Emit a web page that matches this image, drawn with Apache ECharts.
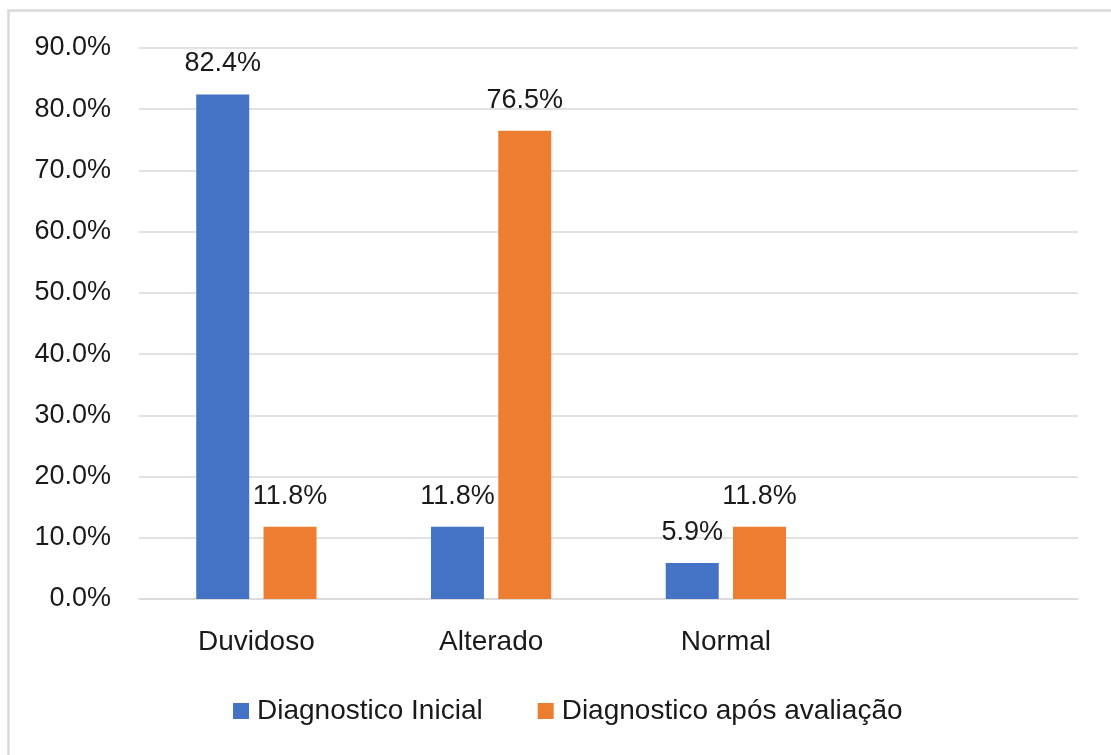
<!DOCTYPE html>
<html>
<head>
<meta charset="utf-8">
<script src="https://cdn.jsdelivr.net/npm/echarts@6/dist/echarts.min.js"></script>
<style>
  html, body { margin: 0; padding: 0; background: #fff; }
  #chart { width: 1111px; height: 755px; }
</style>
</head>
<body>
<div id="chart"></div>
<script>
// Categories (the fourth slot is left empty, as in the source sheet)
const categories = ['Duvidoso', 'Alterado', 'Normal', ''];
const inicial = [82.4, 11.8, 5.9, null];
const aposAvaliacao = [11.8, 76.5, 11.8, null];
const seriesNames = ['Diagnostico Inicial', 'Diagnostico após avaliação'];

const FONT = '"Liberation Sans", Arial, sans-serif';
const chart = echarts.init(document.getElementById('chart'));

const labelCfg = {
  show: true,
  position: 'top',
  distance: 17,
  color: '#1a1a1a',
  fontSize: 27,
  fontFamily: FONT,
  formatter: p => p.value.toFixed(1) + '%'
};

chart.setOption({
  animation: false,
  backgroundColor: '#fff',
  graphic: [{
    type: 'rect',
    shape: { x: 8.5, y: 10.5, width: 1200, height: 1000 },
    style: { fill: 'none', stroke: '#d9d9d9', lineWidth: 2.5 },
    silent: true
  }],
  grid: { left: 139, right: 33, top: 48, bottom: 156 },
  legend: {
    top: 692,
    left: 228,
    itemWidth: 16,
    itemHeight: 16,
    itemGap: 55,
    icon: 'rect',
    textStyle: { fontSize: 28, fontFamily: FONT, color: '#1a1a1a', padding: [0, 0, 0, 3] },
    data: seriesNames
  },
  xAxis: {
    type: 'category',
    data: categories,
    axisLine: { lineStyle: { color: '#d9d9d9', width: 1.5 } },
    axisTick: { show: false },
    axisLabel: { fontSize: 28, fontFamily: FONT, color: '#1a1a1a', margin: 29 }
  },
  yAxis: {
    type: 'value',
    min: 0, max: 90, interval: 10,
    axisLine: { show: false },
    axisTick: { show: false },
    splitLine: { lineStyle: { color: '#d9d9d9', width: 1.5 } },
    axisLabel: {
      fontSize: 27, fontFamily: FONT, color: '#1a1a1a', margin: 28,
      formatter: v => v.toFixed(1) + '%'
    }
  },
  series: [
    {
      name: seriesNames[0], type: 'bar', data: inicial,
      barWidth: 53, barGap: '27%',
      itemStyle: { color: '#4472c4' },
      label: labelCfg
    },
    {
      name: seriesNames[1], type: 'bar', data: aposAvaliacao,
      barWidth: 53,
      itemStyle: { color: '#ed7d31' },
      label: labelCfg
    }
  ]
});
</script>
</body>
</html>
